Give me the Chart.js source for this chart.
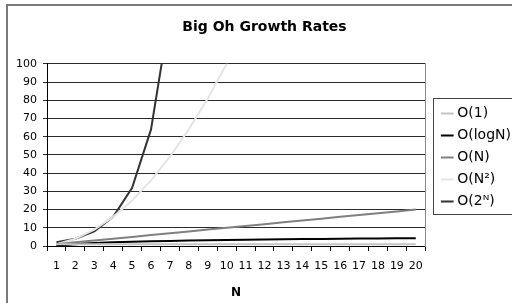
<!DOCTYPE html>
<html>
<head>
<meta charset="utf-8">
<script src="https://cdn.jsdelivr.net/npm/chart.js@4.4.1/dist/chart.umd.min.js"></script>
<style>
  html, body { margin: 0; padding: 0; background: #fff; }
  #wrap { width: 512px; height: 303px; }
</style>
</head>
<body>
<div id="wrap"><canvas id="growthChart" width="512" height="303"></canvas></div>
<script>
// values
const categories = ["1", "2", "3", "4", "5", "6", "7", "8", "9", "10",
  "11", "12", "13", "14", "15", "16", "17", "18", "19", "20"];
const seriesNames = ["O(1)", "O(logN)", "O(N)", "O(N²)", "O(2ᴺ)"];
const constant = [1, 1, 1, 1, 1, 1, 1, 1, 1, 1, 1, 1, 1, 1, 1, 1, 1, 1, 1, 1];
const logN = [0, 1, 1.58, 2, 2.32, 2.58, 2.81, 3, 3.17, 3.32,
  3.46, 3.58, 3.7, 3.81, 3.91, 4, 4.09, 4.17, 4.25, 4.32];
const linear = [1, 2, 3, 4, 5, 6, 7, 8, 9, 10, 11, 12, 13, 14, 15, 16, 17, 18, 19, 20];
const quadratic = [1, 4, 9, 16, 25, 36, 49, 64, 81, 100,
  121, 144, 169, 196, 225, 256, 289, 324, 361, 400];
const exponential = [2, 4, 8, 16, 32, 64, 128, 256, 512, 1024,
  2048, 4096, 8192, 16384, 32768, 65536, 131072, 262144, 524288, 1048576];
const yMin = 0;
const yMax = 100;
const yStep = 10;

const lineColors = ["#c4c4c4", "#000000", "#808080", "#e4e4e4", "#333333"];
const FONT = "'DejaVu Sans', sans-serif";

// outer frame of the chart object + box round the legend
const framePlugin = {
  id: "frame",
  beforeDraw(chart) {
    const ctx = chart.ctx;
    ctx.save();
    ctx.strokeStyle = "#7a7a7a";
    ctx.lineWidth = 2;
    ctx.strokeRect(7, 5, 700, 500);
    ctx.restore();
  },
  afterDraw(chart) {
    const lg = chart.legend;
    if (!lg || !lg.legendHitBoxes || !lg.legendHitBoxes.length) return;
    const boxes = lg.legendHitBoxes;
    const first = boxes[0];
    const last = boxes[boxes.length - 1];
    const ctx = chart.ctx;
    ctx.save();
    ctx.strokeStyle = "#444";
    ctx.lineWidth = 1;
    const top = Math.round(first.top - 8.5) + 0.5;
    const bottom = Math.round(last.top + last.height + 5.5) + 0.5;
    const left = Math.round(lg.left - 3) + 0.5;
    ctx.strokeRect(left, top, 200, bottom - top);
    ctx.restore();
  }
};

const datasets = [constant, logN, linear, quadratic, exponential].map(function (values, i) {
  return {
    label: seriesNames[i],
    data: values,
    borderColor: lineColors[i],
    backgroundColor: lineColors[i],
    borderWidth: 2,
    pointRadius: 0,
    tension: 0,
    clip: 0,
    yAxisID: "y"
  };
});

new Chart(document.getElementById("growthChart"), {
  type: "line",
  data: { labels: categories, datasets: datasets },
  options: {
    responsive: false,
    animation: false,
    layout: { padding: { left: 8, right: -9, top: 0, bottom: 0 } },
    plugins: {
      title: {
        display: true,
        text: "Big Oh Growth Rates",
        color: "#000",
        font: { family: FONT, size: 14, weight: "bold" },
        padding: { top: 19, bottom: 28 }
      },
      legend: {
        display: true,
        position: "right",
        title: {
          display: true,
          text: " ",
          font: { family: FONT, size: 6, lineHeight: 1 },
          padding: 3
        },
        labels: {
          usePointStyle: true,
          pointStyle: "line",
          boxWidth: 6,
          boxHeight: 9,
          padding: 8,
          color: "#000",
          font: { family: FONT, size: 14 }
        }
      },
      tooltip: { enabled: false }
    },
    scales: {
      x: {
        type: "category",
        offset: true,
        grid: {
          offset: true,
          drawOnChartArea: false,
          drawTicks: true,
          tickLength: 5,
          color: "#000"
        },
        border: { display: true, color: "#000", width: 1 },
        ticks: {
          color: "#000",
          padding: 9,
          maxRotation: 0,
          autoSkip: false,
          font: { family: FONT, size: 11 }
        },
        title: {
          display: true,
          text: "N",
          color: "#000",
          font: { family: FONT, size: 12, weight: "bold" },
          padding: { top: 0, bottom: 3 }
        },
        afterFit(scale) { scale.height = 57; }
      },
      y: {
        type: "linear",
        position: "left",
        min: yMin,
        max: yMax,
        grid: {
          color: "#2a2a2a",
          lineWidth: 1,
          tickLength: 4
        },
        border: { display: true, color: "#000", width: 1 },
        ticks: {
          stepSize: yStep,
          color: "#000",
          padding: 6,
          font: { family: FONT, size: 11 }
        },
        afterFit(scale) { scale.width = 39; }
      },
      // thin spacer on the right: gives the plot its grey right edge
      edge: {
        type: "linear",
        position: "right",
        display: true,
        grid: { display: false, drawTicks: false },
        ticks: { display: false },
        border: { display: true, color: "#8a8a8a", width: 1 },
        afterFit(scale) { scale.width = 11; }
      }
    }
  },
  plugins: [framePlugin]
});
</script>
</body>
</html>
